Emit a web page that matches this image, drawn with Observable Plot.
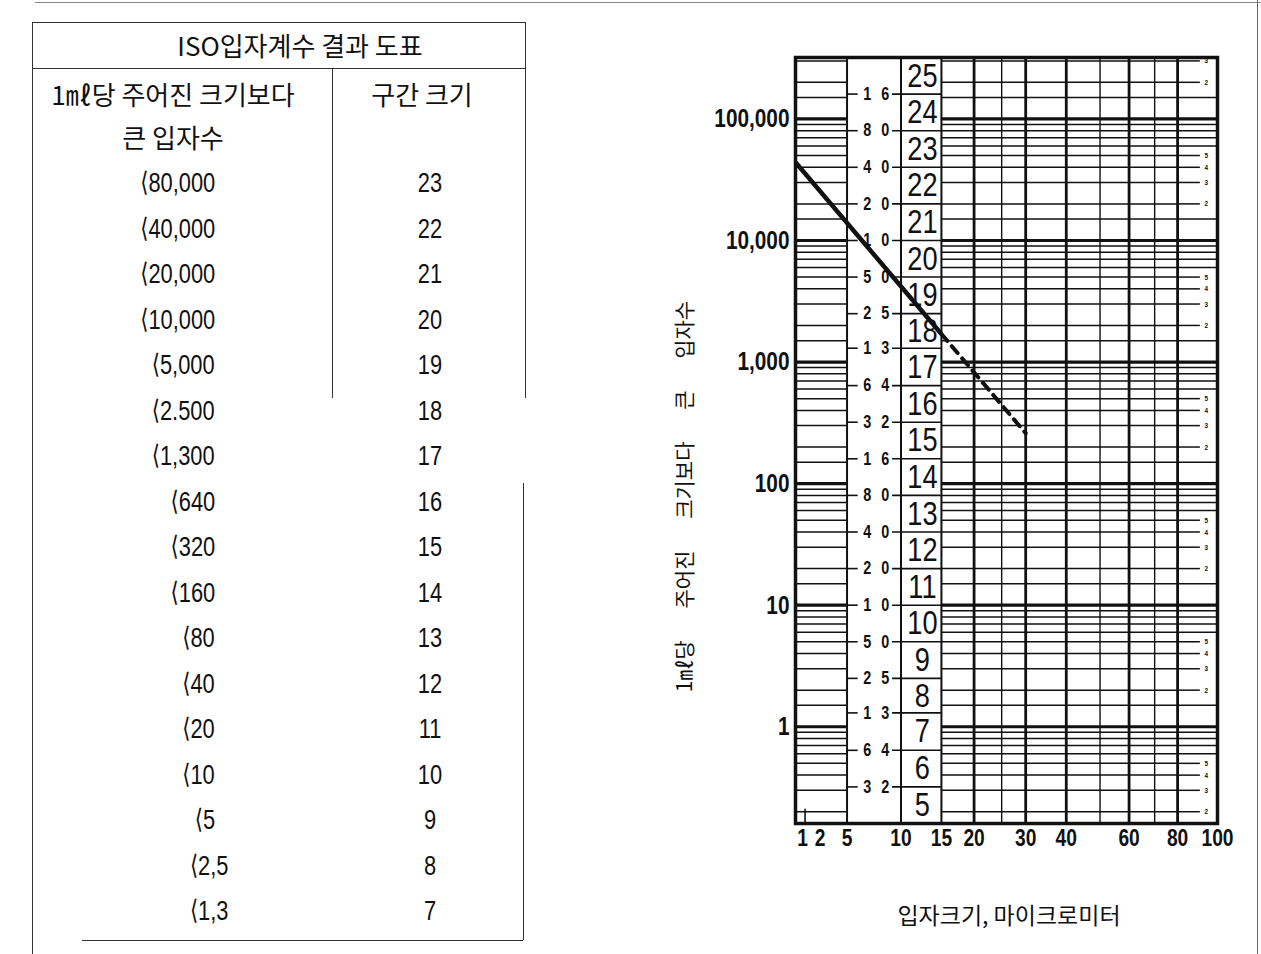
<!DOCTYPE html>
<html><head><meta charset="utf-8">
<script src="https://cdn.jsdelivr.net/npm/d3@7"></script>
<script src="https://cdn.jsdelivr.net/npm/@observablehq/plot@0.6"></script>
<style>
html,body{margin:0;padding:0;background:#fff;}
body{width:1261px;height:954px;position:relative;overflow:hidden;color:#111;}
.abs{position:absolute;white-space:nowrap;line-height:1;}
.hl{position:absolute;height:0;border-top:1.5px solid #333;}
.vl{position:absolute;width:0;border-left:1.5px solid #333;}
.kr{font-family:"Noto Sans CJK KR",sans-serif;font-size:26px;}
.num{font-family:"Liberation Sans",Arial,sans-serif;font-size:28px;}
#chart{position:absolute;left:600px;top:0;}
</style></head><body>
<div id="table"></div>
<div id="chart"></div>
<script>
// ---------- data ----------
const tableTitle = "ISO입자계수 결과 도표";
const tableHeadCount = ["1㎖당 주어진 크기보다", "큰 입자수"];
const tableHeadCode = "구간 크기";
const tableCounts = ["80,000","40,000","20,000","10,000","5,000","2.500","1,300","640","320","160","80","40","20","10","5","2,5","1,3"];
const tableCodes = [23,22,21,20,19,18,17,16,15,14,13,12,11,10,9,8,7];

const sizeTicks = [1,2,5,10,15,20,30,40,60,80,100];
const countTicks = [1,10,100,1000,10000,100000];
const isoLimits = [160000,80000,40000,20000,10000,5000,2500,1300,640,320,160,80,40,20,10,5,2.5,1.3,0.64,0.32];
const isoLimitLabels = ["16","80","40","20","10","50","25","13","64","32","16","80","40","20","10","50","25","13","64","32"];
const isoCodes = [25,24,23,22,21,20,19,18,17,16,15,14,13,12,11,10,9,8,7,6,5];
const countDomain = [0.16, 320000];
const gridMultipliers = [1,1.5,2,3,4,5,6,7,8,9];
const labeledMultipliers = [2,3,4,5];
const gridDecades = [0.1,1,10,100,1000,10000,100000];
const sizeGridMajor = [20,30,40,60,80];
const sizeGridMinor = [25,50,70];
const sizeBorders = [5,10,15];
const solidSize = [1, 15];
const solidCount = [44000, 1700];
const dashedSize = [15, 30];
const dashedCount = [1700, 260];
const xTitle = "입자크기, 마이크로미터";
const yTitle = "1㎖당 주어진 크기보다 큰 입자수";

// ---------- table (HTML) ----------
const T = document.getElementById("table");
function add(html, cls, style){ const d=document.createElement("div"); d.className=cls; d.innerHTML=html; Object.assign(d.style, style); T.appendChild(d); return d; }
add("", "hl", {left:"32px", top:"22px", width:"493px"});
add("", "hl", {left:"32px", top:"68px", width:"493px"});
add("", "vl", {left:"32px", top:"22px", height:"932px"});
add("", "vl", {left:"525px", top:"22px", height:"376px"});
add("", "vl", {left:"523px", top:"483px", height:"457px"});
add("", "vl", {left:"332px", top:"68px", height:"330px"});
add("", "hl", {left:"82px", top:"940px", width:"441px"});
add(tableTitle, "abs kr", {left:"150px", width:"300px", textAlign:"center", top:"32px"});
add(tableHeadCount[0], "abs kr", {left:"23px", width:"300px", textAlign:"center", top:"81px"});
add(tableHeadCount[1], "abs kr", {left:"23px", width:"300px", textAlign:"center", top:"124px"});
add(tableHeadCode, "abs kr", {left:"272px", width:"300px", textAlign:"center", top:"81px"});
tableCounts.forEach((c, i) => {
  const y = 183 + i * 45.5;
  const rightEdge = c.length === 3 && c.includes(",") ? 228 : 215;
  add('<span style="font-family:DejaVu Sans;font-size:27px;position:relative;top:-1px">⟨</span>' + c, "abs num",
      {right: (1261 - rightEdge) + "px", top: (y - 14) + "px", transform: "scaleX(0.78)", transformOrigin: "100% 50%"});
  add(String(tableCodes[i]), "abs num", {left:"380px", width:"100px", textAlign:"center", top:(y - 14) + "px",
      transform: "scaleX(0.78)", transformOrigin: "50% 50%"});
});
const top1 = add("", "hl", {left:"35px", top:"2px", width:"1226px"}); top1.style.borderTopColor="#888";
const r1 = add("", "vl", {left:"1257px", top:"0px", height:"954px"}); r1.style.borderLeftColor="#666";

add(xTitle, "abs kr", {left:"859px", width:"300px", textAlign:"center", top:"903px", fontSize:"23px"});
add(yTitle, "abs kr", {left:(683-250)+"px", width:"500px", textAlign:"center", top:(497-11)+"px", fontSize:"21px",
  wordSpacing:"27px", transform:"rotate(-90deg)", transformOrigin:"50% 50%"});

// ---------- chart (Plot) ----------
const u = s => Math.log10(s) ** 2;           // particle-size axis is linear in (log10 size)^2
const inDomain = v => v >= countDomain[0] && v <= countDomain[1];
const gridAll = gridDecades.flatMap(d => gridMultipliers.map(m => ({m, v: m * d}))).filter(g => inDomain(g.v));
const gridDec = gridAll.filter(g => g.m === 1);
const gridMinor = gridAll.filter(g => g.m !== 1);
const gridFullEnd = gridAll.filter(g => !labeledMultipliers.includes(g.m) && g.m !== 1);
const gridLabeled = gridAll.filter(g => labeledMultipliers.includes(g.m));
const bounds = [countDomain[1], ...isoLimits, countDomain[0]];
const codeRows = isoCodes.map((c, i) => ({c, v: Math.sqrt(bounds[i] * bounds[i + 1])}));
const limitRows = isoLimits.map((v, i) => ({v, a: isoLimitLabels[i][0], b: isoLimitLabels[i][1]}));
const solid = solidSize.map((s, i) => ({s, n: solidCount[i]}));
const dashed = dashedSize.map((s, i) => ({s, n: dashedCount[i]}));
const K = "#111";
const font = "Liberation Sans, Arial, sans-serif";

const chart = Plot.plot({
  width: 661, height: 954,
  marginLeft: 195, marginRight: 44, marginTop: 57, marginBottom: 131,
  x: {type: "linear", domain: [0, 4], axis: null},
  y: {type: "log", domain: countDomain, axis: null},
  style: {background: "transparent", fontFamily: font, color: K},
  marks: [
    Plot.ruleY(gridMinor, {y: "v", x1: () => u(1), x2: () => u(5), stroke: K, strokeWidth: 1.5}),
    Plot.ruleY(gridDec, {y: "v", x1: () => u(1), x2: () => u(5), stroke: K, strokeWidth: 3.2}),
    Plot.ruleY(gridMinor, {y: "v", x1: () => u(15), x2: () => u(80), stroke: K, strokeWidth: 1.5}),
    Plot.ruleY(gridDec, {y: "v", x1: () => u(15), x2: () => u(80), stroke: K, strokeWidth: 3.2}),
    Plot.ruleY(gridFullEnd, {y: "v", x1: () => u(80), x2: () => u(100), stroke: K, strokeWidth: 1.5}),
    Plot.ruleY(gridDec, {y: "v", x1: () => u(80), x2: () => u(100), stroke: K, strokeWidth: 3.2}),
    Plot.ruleY(gridLabeled, {y: "v", x1: () => u(80), x2: () => u(91), stroke: K, strokeWidth: 1.5}),
    Plot.text(gridLabeled, {y: "v", x: () => u(94), text: d => String(d.m), fontSize: 8, fontWeight: "bold", fill: K}),
    Plot.ruleY(limitRows, {y: "v", x1: () => u(9.1), x2: () => u(15), stroke: K, strokeWidth: 1.6}),
    Plot.ruleY(limitRows, {y: "v", x1: () => u(5), x2: () => u(5.9), stroke: K, strokeWidth: 1.6}),
    Plot.text(limitRows, {y: "v", x: () => u(7.5), text: "a", dx: -9, fontSize: 18, fontWeight: "bold", fill: K}),
    Plot.text(limitRows, {y: "v", x: () => u(7.5), text: "b", dx: 9, fontSize: 18, fontWeight: "bold", fill: K}),
    Plot.text(codeRows, {y: "v", x: () => u(12.5), text: d => String(d.c), fontSize: 34, fill: K}),
    Plot.ruleX(sizeBorders, {x: d => u(d), stroke: K, strokeWidth: 2}),
    Plot.ruleX(sizeGridMajor, {x: d => u(d), stroke: K, strokeWidth: 2.8}),
    Plot.ruleX(sizeGridMinor, {x: d => u(d), stroke: K, strokeWidth: 1.4}),
    Plot.ruleX([2], {x: d => u(d), y1: () => 0.16, y2: () => 0.21, stroke: K, strokeWidth: 1.6}),
    Plot.frame({stroke: K, strokeWidth: 3.5}),
    Plot.line(solid, {x: d => u(d.s), y: "n", stroke: K, strokeWidth: 4.5, strokeLinecap: "butt"}),
    Plot.line(dashed, {x: d => u(d.s), y: "n", stroke: K, strokeWidth: 4, strokeDasharray: "9,7"}),
    Plot.axisY({ticks: countTicks, anchor: "left", tickSize: 0, tickPadding: 6, tickFormat: d3.format(","),
      fontSize: 26, fontWeight: "bold", label: null, fill: K}),
    Plot.text(sizeTicks.filter(s => s >= 5), {x: d => u(d), text: d => String(d), frameAnchor: "bottom", dy: 22,
      fontSize: 24, fontWeight: "bold", fill: K}),
    Plot.text(sizeTicks.filter(s => s === 1), {x: d => u(d), text: d => String(d), frameAnchor: "bottom", dy: 22, dx: 7,
      fontSize: 24, fontWeight: "bold", fill: K}),
    Plot.text(sizeTicks.filter(s => s === 2), {x: d => u(d), text: d => String(d), frameAnchor: "bottom", dy: 22, dx: 15,
      fontSize: 24, fontWeight: "bold", fill: K})
  ]
});
// condensed look of the scanned chart lettering: squeeze every label horizontally around its anchor
chart.querySelectorAll("text").forEach(t => {
  const tr = t.getAttribute("transform");
  if (tr) t.setAttribute("transform", tr + " scale(0.8,1)");
  else {
    const x = +(t.getAttribute("x") || 0), y = +(t.getAttribute("y") || 0);
    t.removeAttribute("x"); t.removeAttribute("y");
    t.setAttribute("transform", `translate(${x},${y}) scale(0.8,1)`);
  }
});
document.getElementById("chart").appendChild(chart);
</script>
</body></html>
